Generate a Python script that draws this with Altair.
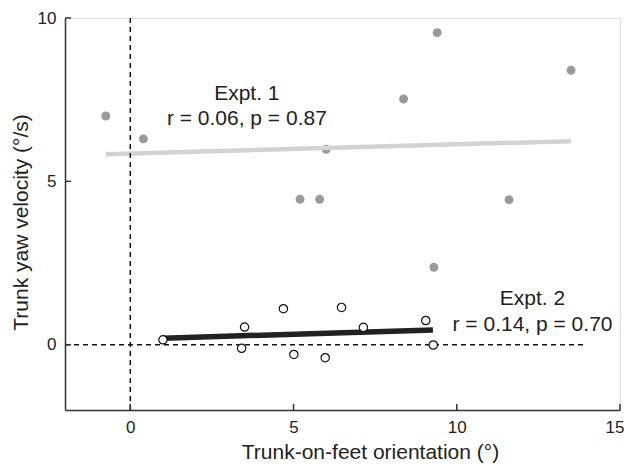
import altair as alt
import pandas as pd

# Expt. 1 (grey filled markers)
e1_x = [-0.75, 0.4, 5.2, 5.8, 6.0, 8.37, 9.4, 13.5, 11.6, 9.3]
e1_y = [7.0, 6.3, 4.45, 4.45, 5.98, 7.52, 9.55, 8.4, 4.44, 2.37]
# Expt. 2 (open markers)
e2_x = [1.0, 3.5, 3.41, 4.69, 5.01, 5.97, 6.47, 7.14, 9.05, 9.28]
e2_y = [0.15, 0.54, -0.11, 1.10, -0.30, -0.40, 1.14, 0.53, 0.74, -0.01]
# regression lines
fit1_x = [-0.75, 13.5]
fit1_y = [5.83, 6.23]
fit2_x = [1.02, 9.27]
fit2_y = [0.2, 0.45]
# reference lines
zero_h_x = [-2, 13.9]
zero_v_y = [-2, 10]
# ticks
x_ticks = [0, 5, 10, 15]
y_ticks = [0, 5, 10]
# annotations
labels = ["Expt. 1", "r = 0.06, p = 0.87", "Expt. 2", "r = 0.14, p = 0.70"]
label_x = [3.57, 3.57, 12.32, 12.32]
label_y = [7.5, 6.72, 1.2, 0.43]

W, H = 555, 392
FONT = "Liberation Sans"

xs = alt.Scale(domain=[-2, 15], nice=False, zero=False)
ys = alt.Scale(domain=[-2, 10], nice=False, zero=False)

x_axis = alt.Axis(values=x_ticks, ticks=False, tickSize=0, labelPadding=9, grid=False,
                  labelFlush=True, labelFlushOffset=4,
                  title="Trunk-on-feet orientation (°)", titleX=305, titleY=48,
                  titleBaseline="alphabetic", titleFontSize=21, titleFontWeight="normal",
                  labelFontSize=17, domainColor="#333", domainWidth=1.5,
                  labelColor="#222", titleColor="#222", labelFont=FONT, titleFont=FONT)
y_axis = alt.Axis(values=y_ticks, ticks=False, tickSize=0, labelPadding=9, grid=False,
                  labelFlush=False,
                  title="Trunk yaw velocity (°/s)", titleX=-38, titleY=204,
                  titleBaseline="alphabetic", titleFontSize=21, titleFontWeight="normal",
                  labelFontSize=17, domainColor="#333", domainWidth=1.5,
                  labelColor="#222", titleColor="#222", labelFont=FONT, titleFont=FONT)

X = alt.X("x:Q", scale=xs, axis=x_axis)
Y = alt.Y("y:Q", scale=ys, axis=y_axis)

d1 = pd.DataFrame({"x": e1_x, "y": e1_y})
d2 = pd.DataFrame({"x": e2_x, "y": e2_y})
f1 = pd.DataFrame({"x": fit1_x, "y": fit1_y})
f2 = pd.DataFrame({"x": fit2_x, "y": fit2_y})
hz = pd.DataFrame({"x": [zero_h_x[0]], "x2": [zero_h_x[1]], "y": [0]})
vz = pd.DataFrame({"x": [0], "y": [zero_v_y[0]], "y2": [zero_v_y[1]]})
xt = pd.DataFrame({"x": x_ticks})
yt = pd.DataFrame({"y": y_ticks})
lab = pd.DataFrame({"x": label_x, "y": label_y, "t": labels})

grey_pts = alt.Chart(d1).mark_circle(size=80, color="#9a9a9a", opacity=1).encode(x=X, y=Y)
grey_line = alt.Chart(f1).mark_line(color="#d3d3d3", strokeWidth=4.5).encode(x=X, y=Y)
hline = alt.Chart(hz).mark_rule(color="#111", strokeWidth=1.5, strokeDash=[5, 4]).encode(
    x=X, x2="x2:Q", y=Y)
vline = alt.Chart(vz).mark_rule(color="#111", strokeWidth=1.5, strokeDash=[5, 4]).encode(
    x=X, y=Y, y2="y2:Q")
black_line = alt.Chart(f2).mark_line(color="#222", strokeWidth=5.5).encode(x=X, y=Y)
open_pts = alt.Chart(d2).mark_point(size=70, shape="circle", filled=True, fill="white",
                                     stroke="#111", strokeWidth=1.2, opacity=1).encode(x=X, y=Y)
xticks = alt.Chart(xt).mark_rule(color="#333", strokeWidth=1.5).encode(
    x=X, y=alt.value(H), y2=alt.value(H - 6))
yticks = alt.Chart(yt).mark_rule(color="#333", strokeWidth=1.5).encode(
    y=Y, x=alt.value(0), x2=alt.value(6))
texts = alt.Chart(lab).mark_text(font=FONT, fontSize=21, color="#222", align="center",
                                 baseline="alphabetic").encode(x=X, y=Y, text="t:N")

chart = alt.layer(grey_pts, grey_line, hline, vline, black_line, open_pts, xticks, yticks, texts
).properties(
    width=W, height=H,
    autosize=alt.AutoSizeParams(type="none"),
    padding={"left": 57, "top": 10, "right": 4, "bottom": 53},
).configure_view(stroke=None).configure(background="white")

chart.save("out.html", embed_options={"renderer": "svg", "actions": False})
